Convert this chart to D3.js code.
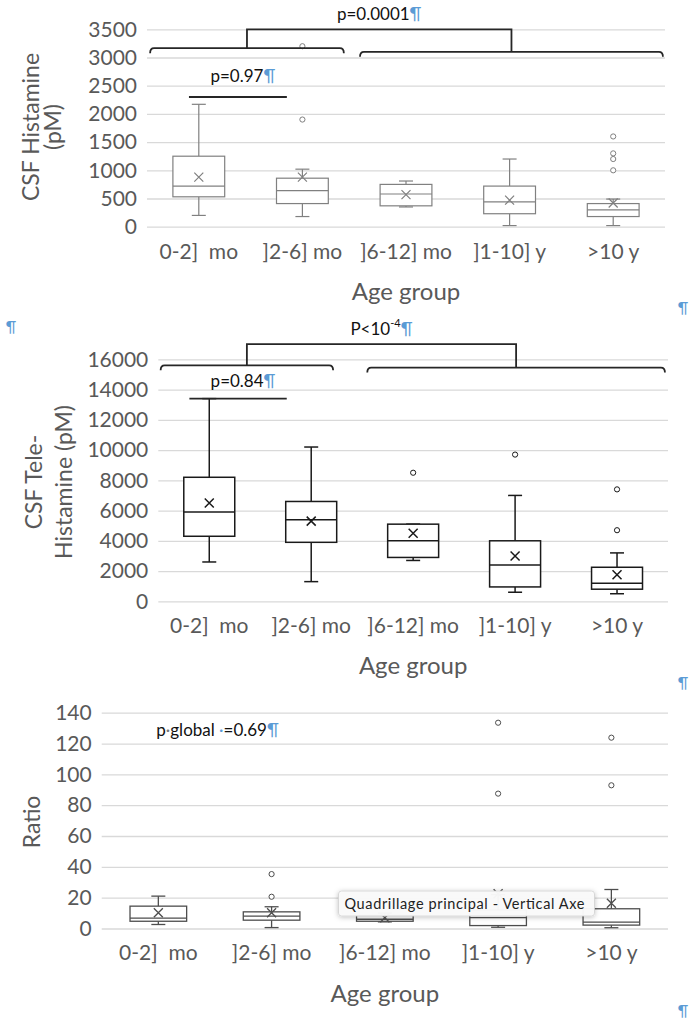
<!DOCTYPE html>
<html>
<head>
<meta charset="utf-8">
<script src="https://cdn.jsdelivr.net/npm/d3@7"></script>
<style>
  body { margin: 0; background: #fff; }
  svg { display: block; }
  text { font-family: Lato, "Open Sans", sans-serif; white-space: pre; }
</style>
</head>
<body>
<script>
// Data
//////////////////////////////////////////////////////////////////////
const ageGroups = ["0-2]  mo", "]2-6] mo", "]6-12] mo", "]1-10] y", ">10 y"];

// CSF histamine (pM)
const histMin = [200, 180, 350, 20, 20];
const histQ1 = [530, 410, 370, 230, 180];
const histMedian = [720, 640, 580, 440, 300];
const histQ3 = [1250, 860, 750, 720, 410];
const histMax = [2170, 1020, 810, 1200, 490];
const histMean = [880, 880, 570, 470, 420];
const histOutliers = [[], [1900, 3200], [], [], [1000, 1200, 1300, 1600]];

// CSF tele-histamine (pM)
const teleMin = [2600, 1300, 2700, 600, 500];
const teleQ1 = [4300, 3900, 2900, 950, 800];
const teleMedian = [5900, 5400, 4000, 2400, 1200];
const teleQ3 = [8200, 6600, 5100, 4000, 2250];
const teleMax = [13400, 10200, 5100, 7000, 3200];
const teleMean = [6500, 5300, 4500, 3000, 1750];
const teleOutliers = [[], [], [8500], [9700], [4700, 7400]];

// Ratio
const ratioMin = [2.6, 0.6, 4.3, 0.8, 0.5];
const ratioQ1 = [4.7, 5.4, 4.7, 1.9, 2.2];
const ratioMedian = [6.7, 8, 6, 7, 4.1];
const ratioQ3 = [14.5, 10.8, 8.5, 12, 12.8];
const ratioMax = [21, 14.1, 10, 22, 25.3];
const ratioMean = [10.2, 10.2, 7, 22.5, 16.4];
const ratioOutliers = [[], [20.6, 35.3], [], [87.5, 133.5], [92.9, 123.8]];

// Variables
//////////////////////////////////////////////////////////////////////
var width = 692, height = 1025;
var grey = "#595959";
var blue = "#5b9bd5";
var ink = "#111";

var svg = d3.select("body").append("svg")
  .attr("width", width)
  .attr("height", height);

svg.append("rect").attr("width", width).attr("height", height).attr("fill", "#fff");

var defs = svg.append("defs");
defs.append("filter").attr("id", "shadow")
  .attr("x", "-10%").attr("y", "-40%").attr("width", "120%").attr("height", "190%")
  .append("feDropShadow")
  .attr("dx", 0).attr("dy", 1).attr("stdDeviation", 2.5)
  .attr("flood-color", "#000").attr("flood-opacity", 0.25);

// Box plot panel
//////////////////////////////////////////////////////////////////////
function boxPanel(o) {
  var x = d3.scaleBand()
    .domain(ageGroups)
    .range([o.left, o.right])
    .paddingInner(0.5)
    .paddingOuter(0.25);
  var y = d3.scaleLinear()
    .domain([0, o.yMax])
    .range([o.bottom, o.top]);
  // center of category p (fractional index)
  var catX = p => x(ageGroups[0]) + x.bandwidth() / 2 + p * x.step();

  var g = svg.append("g");

  // grid + value labels
  g.append("g")
    .attr("transform", `translate(${o.left},0)`)
    .call(d3.axisLeft(y)
      .tickValues(d3.range(0, o.yMax + 1, o.step))
      .tickFormat(d3.format("d"))
      .tickSize(-(o.right - o.left))
      .tickPadding(10))
    .call(a => a.select(".domain").remove())
    .call(a => a.attr("font-family", null).attr("font-size", null))
    .call(a => a.selectAll("line").attr("stroke", "#d9d9d9").attr("stroke-width", 1.3))
    .call(a => a.selectAll("text").attr("fill", grey).attr("font-size", 21));

  // category labels
  g.append("g")
    .attr("transform", `translate(0,${o.bottom})`)
    .call(d3.axisBottom(x).tickSize(0).tickPadding(17))
    .call(a => a.select(".domain").remove())
    .call(a => a.attr("font-family", null).attr("font-size", null))
    .call(a => a.selectAll("text").attr("fill", grey).attr("font-size", 21));

  // axis titles
  g.append("text")
    .attr("x", (o.left + o.right) / 2)
    .attr("y", o.bottom + 73)
    .attr("text-anchor", "middle")
    .attr("fill", grey)
    .attr("font-size", 24)
    .text("Age group");

  var yt = g.append("text")
    .attr("transform", `translate(0,${o.titleY}) rotate(-90)`)
    .attr("text-anchor", "middle")
    .attr("fill", grey)
    .attr("font-size", 23);
  o.title.forEach((t, i) => yt.append("tspan").attr("x", 0).attr("y", o.titleX[i]).text(t));

  // boxes
  var rows = ageGroups.map((k, i) => ({
    k: k, min: o.min[i], q1: o.q1[i], med: o.median[i], q3: o.q3[i],
    max: o.max[i], mean: o.mean[i], out: o.outliers[i]
  }));
  var bw = x.bandwidth();
  var cap = 14;

  var box = g.append("g")
    .attr("stroke", o.stroke)
    .attr("stroke-width", o.sw)
    .attr("fill", "none")
    .selectAll("g")
    .data(rows)
    .join("g")
    .attr("transform", d => `translate(${x(d.k) + bw / 2},0)`);

  box.append("line").attr("y1", d => y(d.max)).attr("y2", d => y(d.q3));
  box.append("line").attr("y1", d => y(d.q1)).attr("y2", d => y(d.min));
  box.append("line").attr("x1", -cap / 2).attr("x2", cap / 2).attr("y1", d => y(d.max)).attr("y2", d => y(d.max));
  box.append("line").attr("x1", -cap / 2).attr("x2", cap / 2).attr("y1", d => y(d.min)).attr("y2", d => y(d.min));
  box.append("rect")
    .attr("x", -bw / 2).attr("width", bw)
    .attr("y", d => y(d.q3)).attr("height", d => y(d.q1) - y(d.q3))
    .attr("fill", "#fff");
  box.append("line").attr("x1", -bw / 2).attr("x2", bw / 2).attr("y1", d => y(d.med)).attr("y2", d => y(d.med));
  box.append("path")
    .attr("d", d => { var c = y(d.mean), s = 4.5; return `M${-s},${c - s}L${s},${c + s}M${-s},${c + s}L${s},${c - s}`; });
  box.selectAll("circle")
    .data(d => d.out)
    .join("circle")
    .attr("cy", v => y(v))
    .attr("r", 2.6)
    .attr("fill", "#fff")
    .attr("stroke-width", 1);

  return { x: x, y: y, catX: catX, g: g };
}

// Annotations
//////////////////////////////////////////////////////////////////////
function curly(g, x0, x1, yy, hook) {
  g.append("path")
    .attr("d", `M${x0},${yy + hook}Q${x0},${yy} ${x0 + 4},${yy}L${x1 - 4},${yy}Q${x1},${yy} ${x1},${yy + hook}`);
}

function comparison(p, a) {
  var g = p.g.append("g")
    .attr("fill", "none")
    .attr("stroke", "#262626")
    .attr("stroke-width", 1.8);
  var lx0 = p.catX(a.left[0]), lx1 = p.catX(a.left[1]);
  var rx0 = p.catX(a.right[0]), rx1 = p.catX(a.right[1]);
  var ly = p.y(a.leftY), ry = p.y(a.rightY), ty = p.y(a.topY);
  var lm = (lx0 + lx1) / 2, rm = (rx0 + rx1) / 2;
  curly(g, lx0, lx1, ly, 5);
  curly(g, rx0, rx1, ry, 5);
  g.append("path").attr("d", `M${lm},${ly}L${lm},${ty}L${rm},${ty}L${rm},${ry}`);

  var t = p.g.append("text")
    .attr("x", (lm + rm) / 2)
    .attr("y", ty - 9)
    .attr("text-anchor", "middle")
    .attr("fill", ink)
    .attr("font-size", 17);
  t.append("tspan").text(a.label);
  if (a.sup) t.append("tspan").attr("font-size", 11).attr("dy", -8).text(a.sup);
  t.append("tspan").attr("fill", blue).attr("dy", a.sup ? 8 : 0).text("¶");

  // pairwise line
  var px0 = p.catX(a.pair[0]), px1 = p.catX(a.pair[1]), py = p.y(a.pairY);
  g.append("line").attr("x1", px0).attr("x2", px1).attr("y1", py).attr("y2", py);
  var t2 = p.g.append("text")
    .attr("x", (px0 + px1) / 2 + 5)
    .attr("y", py - a.pairGap)
    .attr("text-anchor", "middle")
    .attr("fill", ink)
    .attr("font-size", 17);
  t2.append("tspan").text(a.pairLabel);
  t2.append("tspan").attr("fill", blue).text("¶");
}

// Panels
//////////////////////////////////////////////////////////////////////
var top1 = boxPanel({
  left: 147, right: 665, top: 29.3, bottom: 226.7, yMax: 3500, step: 500,
  min: histMin, q1: histQ1, median: histMedian, q3: histQ3, max: histMax,
  mean: histMean, outliers: histOutliers,
  stroke: "#808080", sw: 1.2,
  title: ["CSF Histamine", "(pM)"], titleX: [39, 61], titleY: 127
});
comparison(top1, {
  left: [-0.47, 1.40], right: [1.556, 4.48],
  leftY: 3165, rightY: 3100, topY: 3500,
  label: "p=0.0001",
  pair: [-0.095, 0.85], pairY: 2300, pairGap: 15, pairLabel: "p=0.97"
});

var mid = boxPanel({
  left: 158.3, right: 668, top: 359.3, bottom: 601.3, yMax: 16000, step: 2000,
  min: teleMin, q1: teleQ1, median: teleMedian, q3: teleQ3, max: teleMax,
  mean: teleMean, outliers: teleOutliers,
  stroke: "#1a1a1a", sw: 1.5,
  title: ["CSF Tele-", "Histamine (pM)"], titleX: [42, 72], titleY: 482
});
comparison(mid, {
  left: [-0.477, 1.215], right: [1.55, 4.47],
  leftY: 15600, rightY: 15450, topY: 17000,
  label: "P<10", sup: "-4",
  pair: [-0.195, 0.76], pairY: 13400, pairGap: 12, pairLabel: "p=0.84"
});

var bot = boxPanel({
  left: 101.7, right: 668, top: 712.7, bottom: 928.5, yMax: 140, step: 20,
  min: ratioMin, q1: ratioQ1, median: ratioMedian, q3: ratioQ3, max: ratioMax,
  mean: ratioMean, outliers: ratioOutliers,
  stroke: "#4d4d4d", sw: 1.3,
  title: ["Ratio"], titleX: [40], titleY: 822
});
var pg = bot.g.append("text")
  .attr("x", bot.catX(0) - 2)
  .attr("y", bot.y(125))
  .attr("fill", ink)
  .attr("font-size", 17);
pg.append("tspan").text("p");
pg.append("tspan").attr("fill", "#777").text("·");
pg.append("tspan").text("global ");
pg.append("tspan").attr("fill", blue).text("·");
pg.append("tspan").text("=0.69");
pg.append("tspan").attr("fill", blue).text("¶");

// Word tooltip that sits over the chart
var tip = svg.append("g").attr("transform", "translate(338.5,891)");
tip.append("rect")
  .attr("width", 256).attr("height", 25).attr("rx", 3)
  .attr("fill", "#fafafa").attr("fill-opacity", 0.96)
  .attr("stroke", "#d0d0d0").attr("stroke-width", 0.8)
  .attr("filter", "url(#shadow)");
tip.append("text")
  .attr("x", 6).attr("y", 17.5)
  .attr("font-family", "'Liberation Sans', Arial, sans-serif")
  .attr("font-size", 14.5)
  .attr("textLength", 240)
  .attr("fill", "#222")
  .text("Quadrillage principal - Vertical Axe");

// Paragraph marks of the document
[[683, 313], [11, 332], [683, 688], [683, 1016]].forEach(p => {
  svg.append("text")
    .attr("x", p[0]).attr("y", p[1])
    .attr("font-size", 15)
    .attr("fill", blue)
    .attr("text-anchor", "middle")
    .text("¶");
});
</script>
</body>
</html>
